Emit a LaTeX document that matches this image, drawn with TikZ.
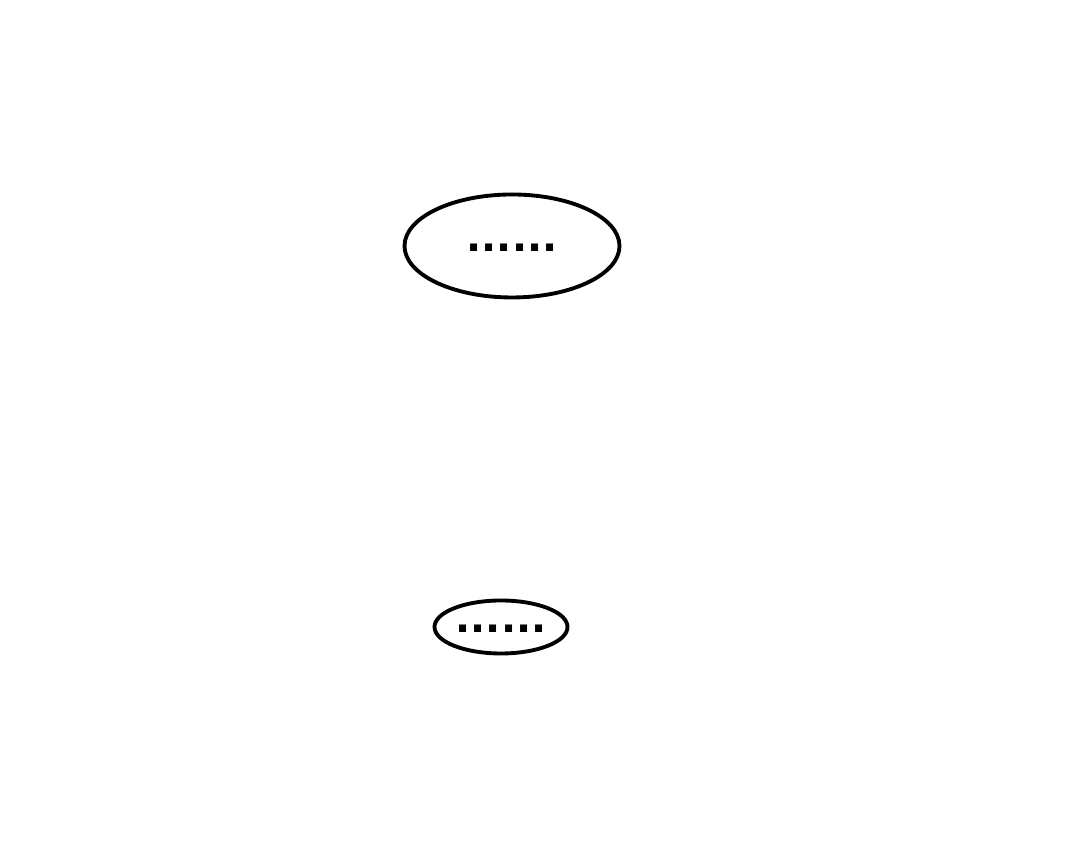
\documentclass[tikz,border=0pt]{standalone}
\usepackage{fontspec}
\setmainfont{DejaVu Sans}
\usetikzlibrary{shapes.geometric}
\begin{document}
\begin{tikzpicture}[line join=round, line cap=round, font=\fontsize{11.3}{13}\selectfont\bfseries,
        blob/.style={draw, ellipse, line width=1.1pt, inner sep=0pt}]
            \useasboundingbox (0,0) rectangle (10.8,8.44);
            \node[blob, minimum width=2.15cm, minimum height=1.03cm] (top) at (5.12,5.98) {\raisebox{-0.5ex}{......}};
            \node[blob, minimum width=1.33cm, minimum height=0.53cm] (bottom) at (5.01,2.17) {\raisebox{-0.5ex}{......}};
    \end{tikzpicture}
\end{document}
